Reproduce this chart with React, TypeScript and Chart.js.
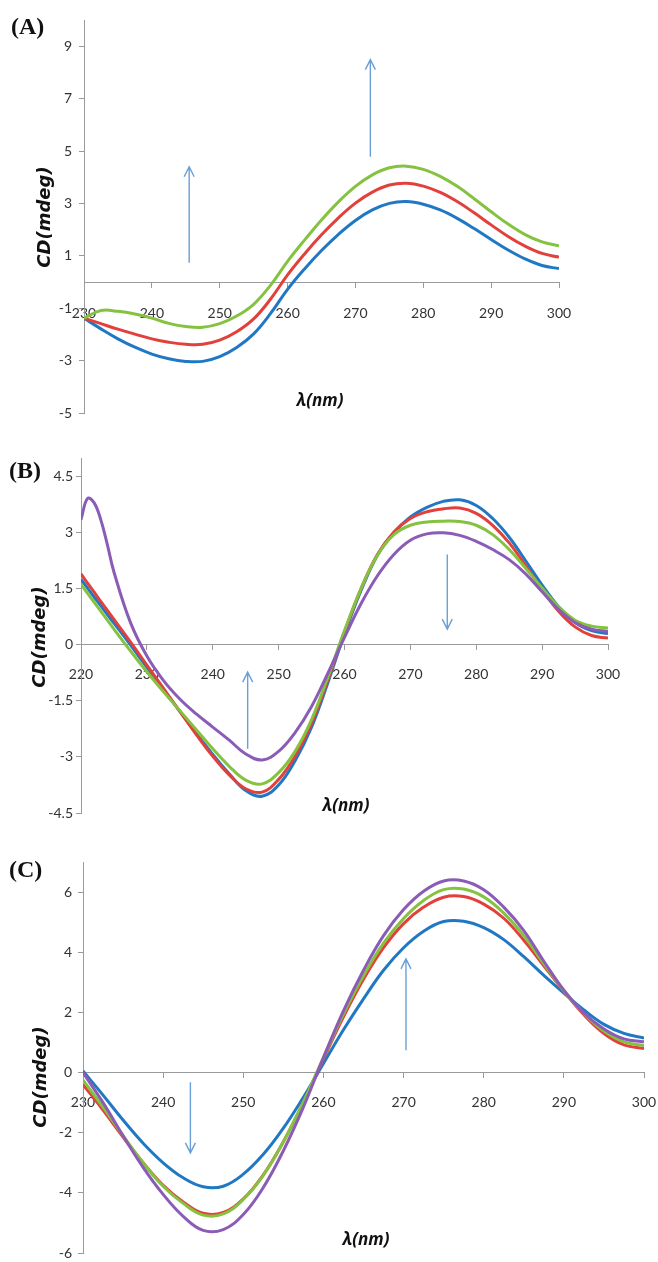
import { useEffect, useRef } from "react";
import { Chart, registerables } from "chart.js";

Chart.register(...registerables);

// ---------- Panel A ----------
const wavelengthA = [230, 232.5, 235, 237.5, 240, 242.5, 245, 247.5, 250, 252.5, 255, 257.5, 260, 262.5, 265, 267.5, 270, 272.5, 275, 277.5, 280, 282.5, 285, 287.5, 290, 292.5, 295, 297.5, 300];
const blueA = [-1.38, -1.79, -2.17, -2.49, -2.75, -2.93, -3.03, -3.03, -2.85, -2.5, -1.98, -1.2, -0.28, 0.5, 1.2, 1.82, 2.35, 2.75, 3.0, 3.07, 2.97, 2.75, 2.43, 2.04, 1.62, 1.22, 0.88, 0.63, 0.51];
const redA = [-1.38, -1.59, -1.8, -1.99, -2.17, -2.3, -2.38, -2.38, -2.22, -1.9, -1.41, -0.65, 0.27, 1.07, 1.8, 2.45, 3.01, 3.43, 3.7, 3.77, 3.66, 3.42, 3.07, 2.64, 2.18, 1.74, 1.37, 1.09, 0.95];
const greenA = [-1.38, -1.09, -1.12, -1.22, -1.38, -1.58, -1.7, -1.73, -1.59, -1.3, -0.85, -0.12, 0.79, 1.6, 2.37, 3.06, 3.65, 4.09, 4.36, 4.42, 4.3, 4.03, 3.65, 3.18, 2.68, 2.21, 1.81, 1.53, 1.38];
const xTicksA = [230, 240, 250, 260, 270, 280, 290, 300];
const yTicksA = [-5, -3, -1, 1, 3, 5, 7, 9];
const arrowsA = [
  { x: 245.5, from: 0.73, to: 4.4 },
  { x: 272.2, from: 4.78, to: 8.49 },
];

// ---------- Panel B ----------
const wavelengthB = [220, 221, 222, 223, 224, 225, 227.5, 230, 232.5, 235, 237.5, 240, 242.5, 245, 247.5, 250, 252.5, 255, 257.5, 260, 262.5, 265, 267.5, 270, 272.5, 275, 277.5, 280, 282.5, 285, 287.5, 290, 292.5, 295, 297.5, 300];
const blueB = [1.75, 1.52, 1.28, 1.05, 0.81, 0.58, 0.0, -0.6, -1.19, -1.78, -2.37, -2.93, -3.45, -3.9, -4.05, -3.75, -3.1, -2.2, -1.0, 0.3, 1.45, 2.4, 3.0, 3.42, 3.68, 3.84, 3.88, 3.73, 3.38, 2.88, 2.25, 1.6, 1.02, 0.6, 0.38, 0.3];
const redB = [1.9, 1.65, 1.41, 1.16, 0.92, 0.68, 0.08, -0.54, -1.16, -1.78, -2.4, -2.98, -3.48, -3.85, -3.94, -3.6, -2.98, -2.1, -0.92, 0.35, 1.5, 2.42, 3.02, 3.38, 3.56, 3.64, 3.66, 3.52, 3.2, 2.73, 2.12, 1.48, 0.9, 0.48, 0.25, 0.18];
const greenB = [1.62, 1.38, 1.14, 0.9, 0.66, 0.42, -0.16, -0.72, -1.25, -1.76, -2.27, -2.78, -3.25, -3.62, -3.72, -3.42, -2.85, -2.0, -0.85, 0.38, 1.5, 2.4, 2.95, 3.2, 3.29, 3.31, 3.3, 3.2, 2.95, 2.55, 2.05, 1.52, 1.02, 0.66, 0.5, 0.45];
const purpleB = [3.35, 3.92, 3.8, 3.35, 2.68, 1.95, 0.6, -0.3, -0.95, -1.45, -1.85, -2.2, -2.55, -2.92, -3.08, -2.85, -2.35, -1.65, -0.75, 0.2, 1.1, 1.85, 2.42, 2.8, 2.97, 3.0, 2.93, 2.77, 2.55, 2.28, 1.9, 1.42, 0.95, 0.6, 0.42, 0.36];
const xTicksB = [220, 230, 240, 250, 260, 270, 280, 290, 300];
const yTicksB = [-4.5, -3, -1.5, 0, 1.5, 3, 4.5];
const arrowsB = [
  { x: 245.3, from: -2.78, to: -0.73 },
  { x: 275.6, from: 2.42, to: 0.42 },
];

// ---------- Panel C ----------
const wavelengthC = [230, 232.5, 235, 237.5, 240, 242.5, 245, 247.5, 250, 252.5, 255, 257.5, 260, 262.5, 265, 267.5, 270, 272.5, 275, 277.5, 280, 282.5, 285, 287.5, 290, 292.5, 295, 297.5, 300];
const blueC = [0.05, -0.75, -1.58, -2.35, -3.0, -3.5, -3.8, -3.78, -3.38, -2.72, -1.85, -0.82, 0.3, 1.42, 2.45, 3.4, 4.15, 4.7, 5.02, 5.03, 4.82, 4.42, 3.85, 3.23, 2.64, 2.08, 1.6, 1.3, 1.15];
const redC = [-0.4, -1.25, -2.15, -3.0, -3.75, -4.3, -4.68, -4.65, -4.2, -3.4, -2.3, -1.0, 0.45, 1.85, 3.1, 4.15, 4.95, 5.5, 5.83, 5.85, 5.6, 5.13, 4.4, 3.55, 2.7, 1.92, 1.3, 0.92, 0.8];
const greenC = [-0.25, -1.15, -2.1, -3.0, -3.78, -4.35, -4.74, -4.7, -4.22, -3.42, -2.3, -0.98, 0.5, 1.95, 3.22, 4.3, 5.12, 5.72, 6.08, 6.1, 5.84, 5.3, 4.55, 3.62, 2.72, 1.97, 1.38, 1.02, 0.9];
const purpleC = [0.0, -1.0, -2.1, -3.15, -4.05, -4.78, -5.25, -5.22, -4.72, -3.82, -2.6, -1.15, 0.5, 2.05, 3.4, 4.55, 5.42, 6.03, 6.37, 6.37, 6.08, 5.5, 4.72, 3.7, 2.74, 1.98, 1.45, 1.12, 1.02];
const xTicksC = [230, 240, 250, 260, 270, 280, 290, 300];
const yTicksC = [-6, -4, -2, 0, 2, 4, 6];
const arrowsC = [
  { x: 243.4, from: -0.32, to: -2.67 },
  { x: 270.3, from: 0.74, to: 3.78 },
];

const COLORS = {
  blue: "#2078c4",
  red: "#e2403b",
  green: "#84c240",
  purple: "#8a5cb6",
};
const AXIS_COLOR = "#9a9a9a";
const TICK_TEXT = "#333333";
const ARROW_COLOR = "#6a9fd8";

type Series = { values: number[]; color: string; order: number };
type Arrow = { x: number; from: number; to: number };

type PanelCfg = {
  top: number;
  height: number;
  pad: { left: number; right: number; top: number; bottom: number };
  xs: number[];
  series: Series[];
  xMin: number;
  xMax: number;
  yMin: number;
  yMax: number;
  xTicks: number[];
  yTicks: number[];
  xTickPad: number;
  yTickPad: number;
  arrows: Arrow[];
  label: string;
  labelPos: [number, number];
  yTitlePos: [number, number];
  xTitlePos: [number, number];
};

const panels: PanelCfg[] = [
  {
    top: 0,
    height: 424,
    pad: { left: 24, right: 99, top: 20, bottom: 11 },
    xs: wavelengthA,
    series: [
      { values: blueA, color: COLORS.blue, order: 3 },
      { values: redA, color: COLORS.red, order: 2 },
      { values: greenA, color: COLORS.green, order: 1 },
    ],
    xMin: 230,
    xMax: 300,
    yMin: -5,
    yMax: 10,
    xTicks: xTicksA,
    yTicks: yTicksA,
    xTickPad: 18,
    yTickPad: 7,
    arrows: arrowsA,
    label: "(A)",
    labelPos: [11, 34],
    yTitlePos: [45, 217],
    xTitlePos: [320, 401],
  },
  {
    top: 424,
    height: 408,
    pad: { left: 21, right: 50, top: 34, bottom: 19 },
    xs: wavelengthB,
    series: [
      { values: blueB, color: COLORS.blue, order: 4 },
      { values: redB, color: COLORS.red, order: 3 },
      { values: greenB, color: COLORS.green, order: 2 },
      { values: purpleB, color: COLORS.purple, order: 1 },
    ],
    xMin: 220,
    xMax: 300,
    yMin: -4.5,
    yMax: 5,
    xTicks: xTicksB,
    yTicks: yTicksB,
    xTickPad: 16,
    yTickPad: 3,
    arrows: arrowsB,
    label: "(B)",
    labelPos: [9, 54],
    yTitlePos: [40, 213],
    xTitlePos: [346, 382],
  },
  {
    top: 832,
    height: 430,
    pad: { left: 23, right: 14, top: 30, bottom: 9 },
    xs: wavelengthC,
    series: [
      { values: blueC, color: COLORS.blue, order: 4 },
      { values: redC, color: COLORS.red, order: 3 },
      { values: greenC, color: COLORS.green, order: 2 },
      { values: purpleC, color: COLORS.purple, order: 1 },
    ],
    xMin: 230,
    xMax: 300,
    yMin: -6,
    yMax: 7,
    xTicks: xTicksC,
    yTicks: yTicksC,
    xTickPad: 17,
    yTickPad: 6,
    arrows: arrowsC,
    label: "(C)",
    labelPos: [9, 45],
    yTitlePos: [41, 245],
    xTitlePos: [366, 408],
  },
];

function makeDecorPlugin(cfg: PanelCfg) {
  return {
    id: "decor",
    afterDraw(chart: any) {
      const ctx: CanvasRenderingContext2D = chart.ctx;
      const xs = chart.scales.x;
      const ys = chart.scales.y;
      ctx.save();
      // arrows
      ctx.strokeStyle = ARROW_COLOR;
      ctx.lineWidth = 1.4;
      for (const a of cfg.arrows) {
        const px = xs.getPixelForValue(a.x);
        const y1 = ys.getPixelForValue(a.from);
        const y2 = ys.getPixelForValue(a.to);
        const dir = y2 < y1 ? 1 : -1;
        ctx.beginPath();
        ctx.moveTo(px, y1);
        ctx.lineTo(px, y2);
        ctx.moveTo(px - 5, y2 + dir * 10);
        ctx.lineTo(px, y2);
        ctx.lineTo(px + 5, y2 + dir * 10);
        ctx.stroke();
      }
      // panel label
      ctx.fillStyle = "#111";
      ctx.font = "bold 24px 'Liberation Serif', serif";
      ctx.textAlign = "left";
      ctx.textBaseline = "alphabetic";
      ctx.fillText(cfg.label, cfg.labelPos[0], cfg.labelPos[1]);
      // y title
      ctx.save();
      ctx.translate(cfg.yTitlePos[0], cfg.yTitlePos[1]);
      ctx.rotate(-Math.PI / 2);
      ctx.font = "italic bold 18px 'DejaVu Sans', sans-serif";
      ctx.textAlign = "center";
      ctx.textBaseline = "middle";
      ctx.fillText("CD(mdeg)", 0, 0);
      ctx.restore();
      // x title
      ctx.font = "italic bold 17px 'Open Sans', sans-serif";
      ctx.textAlign = "center";
      ctx.textBaseline = "middle";
      ctx.fillText("λ(nm)", cfg.xTitlePos[0], cfg.xTitlePos[1]);
      ctx.restore();
    },
  };
}

function Panel({ cfg }: { cfg: PanelCfg }) {
  const ref = useRef<HTMLCanvasElement | null>(null);
  useEffect(() => {
    if (!ref.current) return;
    const tickFont = { family: "Lato, 'Open Sans', sans-serif", size: 14 };
    const chart = new Chart(ref.current, {
      type: "line",
      data: {
        datasets: cfg.series.map((s) => ({
          data: cfg.xs.map((x, i) => ({ x, y: s.values[i] })),
          borderColor: s.color,
          backgroundColor: s.color,
          borderWidth: 3,
          pointRadius: 0,
          fill: false,
          tension: 0.4,
          order: s.order,
        })),
      },
      options: {
        responsive: false,
        animation: false,
        devicePixelRatio: 1,
        events: [],
        layout: { padding: cfg.pad },
        plugins: { legend: { display: false }, tooltip: { enabled: false } },
        scales: {
          x: {
            type: "linear",
            min: cfg.xMin,
            max: cfg.xMax,
            position: { y: 0 } as any,
            afterBuildTicks: (s: any) => {
              s.ticks = cfg.xTicks.map((v) => ({ value: v }));
            },
            afterFit: (s: any) => {
              s.paddingLeft = 0;
              s.paddingRight = 0;
              s.paddingTop = 0;
              s.paddingBottom = 0;
            },
            grid: { drawOnChartArea: false, drawTicks: true, tickLength: 5, color: AXIS_COLOR },
            border: { display: true, color: AXIS_COLOR, width: 1 },
            ticks: { padding: cfg.xTickPad, font: tickFont, color: TICK_TEXT, maxRotation: 0, autoSkip: false },
          },
          y: {
            type: "linear",
            min: cfg.yMin,
            max: cfg.yMax,
            position: "left",
            afterBuildTicks: (s: any) => {
              s.ticks = cfg.yTicks.map((v) => ({ value: v }));
            },
            afterFit: (s: any) => {
              s.width = 60;
              s.paddingLeft = 0;
              s.paddingRight = 0;
              s.paddingTop = 0;
              s.paddingBottom = 0;
            },
            grid: { drawOnChartArea: false, drawTicks: true, tickLength: 5, color: AXIS_COLOR },
            border: { display: true, color: AXIS_COLOR, width: 1 },
            ticks: { padding: cfg.yTickPad, font: tickFont, color: TICK_TEXT, autoSkip: false },
          },
        },
      },
      plugins: [makeDecorPlugin(cfg)],
    } as any);
    return () => chart.destroy();
  }, [cfg]);
  return (
    <canvas
      ref={ref}
      width={658}
      height={cfg.height}
      style={{ position: "absolute", left: 0, top: cfg.top, width: 658, height: cfg.height }}
    />
  );
}

export default function App() {
  return (
    <div style={{ position: "absolute", left: 0, top: 0, width: 658, height: 1262, background: "#fff" }}>
      {panels.map((p, i) => (
        <Panel key={i} cfg={p} />
      ))}
    </div>
  );
}
